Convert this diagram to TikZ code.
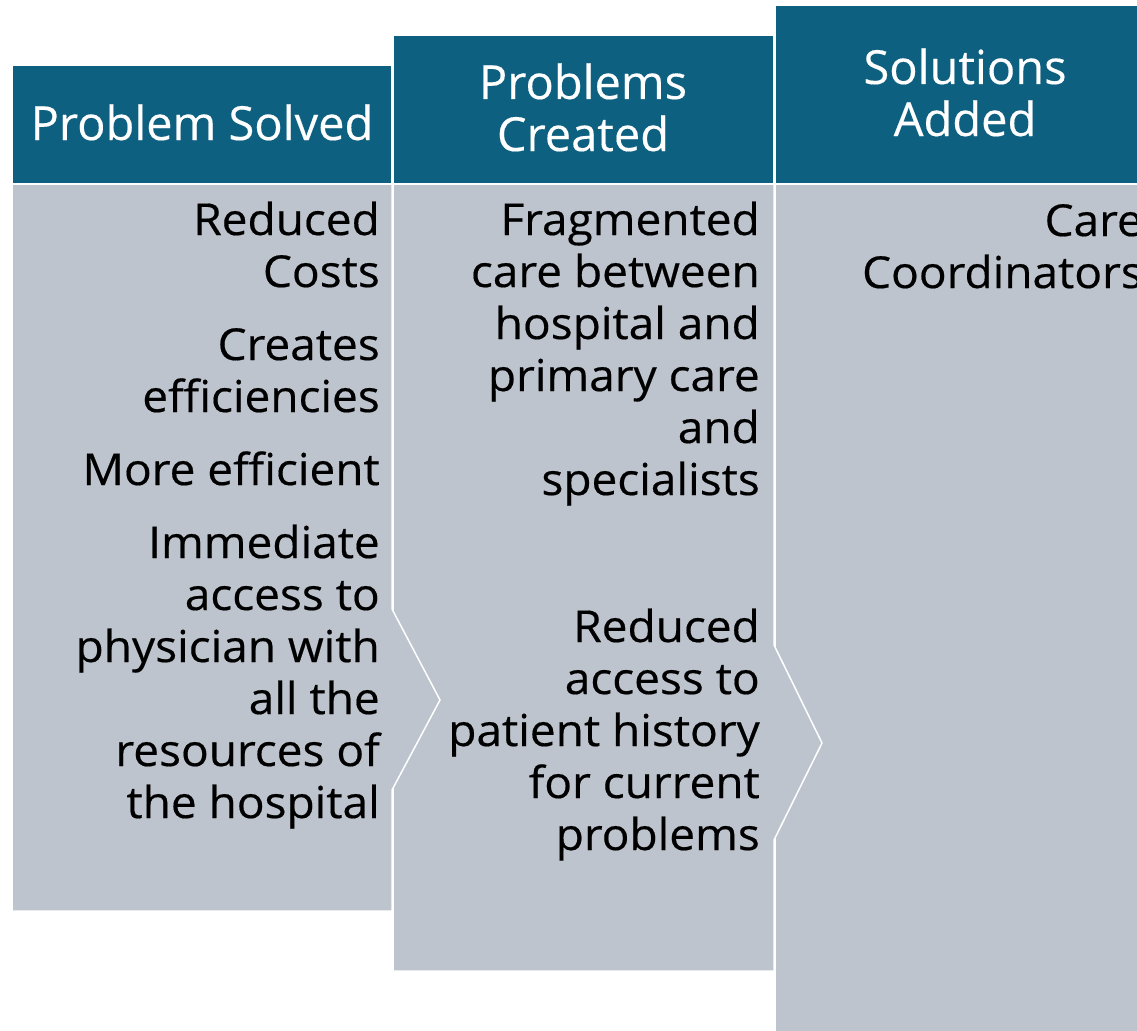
\documentclass[tikz,border=0pt]{standalone}
\usepackage{fontspec}
\setmainfont{Open Sans}
\newfontfamily\bodyfont[FakeStretch=1.045,FakeBold=0.4]{Open Sans}
\newfontfamily\headfont[FakeBold=0.3]{Open Sans}
\definecolor{hdr}{RGB}{14,96,128}
\definecolor{bodyc}{RGB}{189,196,205}
\begin{document}
\begin{tikzpicture}[x=1pt,y=-1pt,
  panel/.style={fill=bodyc,draw=white,line width=1.5pt,line join=miter},
  hbox/.style={fill=hdr,draw=white,line width=1.5pt},
  htext/.style={text=white,font=\headfont\fontsize{47}{52}\selectfont,inner sep=0pt,anchor=base},
  btext/.style={text=black,font=\bodyfont\fontsize{44}{52}\selectfont,inner sep=0pt,anchor=base east}]
\useasboundingbox (0,0) rectangle (1137,1030);
\clip (0,0) rectangle (1137,1030);
\fill[white] (0,0) rectangle (1137,1030);
% column 3
\path[panel] (775,184) rectangle (1160,1040);
\path[hbox] (775,5) rectangle (1160,184);
% column 2
\path[panel] (393,184) -- (774,184) -- (774,645) -- (822,743) -- (774,840) -- (774,971) -- (393,971) -- cycle;
\path[hbox] (393,35) rectangle (774,184);
% column 1
\path[panel] (12,184) -- (392,184) -- (392,609) -- (440,700) -- (392,790) -- (392,911) -- (12,911) -- cycle;
\path[hbox] (12,65) rectangle (392,184);
% headers
\node[htext] (h1) at (202,140) {Problem Solved};
\node[htext] (h2a) at (583,99) {Problems};
\node[htext] (h2b) at (583,151) {Created};
\node[htext] (h3a) at (965,84) {Solutions};
\node[htext] (h3b) at (965,136) {Added};
% column 1 text
\node[btext] (a1) at (380,235) {Reduced};
\node[btext] (a2) at (380,287) {Costs};
\node[btext] (a3) at (380,360) {Creates};
\node[btext] (a4) at (380,412) {efficiencies};
\node[btext] (a5) at (380,485) {More efficient};
\node[btext] (a6) at (380,558) {Immediate};
\node[btext] (a7) at (380,610) {access to};
\node[btext] (a8) at (380,662) {physician with};
\node[btext] (a9) at (380,714) {all the};
\node[btext] (a10) at (380,766) {resources of};
\node[btext] (a11) at (380,818) {the hospital};
% column 2 text
\node[btext] (b1) at (760,235) {Fragmented};
\node[btext] (b2) at (760,287) {care between};
\node[btext] (b3) at (760,339) {hospital and};
\node[btext] (b4) at (760,391) {primary care};
\node[btext] (b5) at (760,443) {and};
\node[btext] (b6) at (760,495) {specialists};
\node[btext] (b7) at (760,642) {Reduced};
\node[btext] (b8) at (760,694) {access to};
\node[btext] (b9) at (760,746) {patient history};
\node[btext] (b10) at (760,798) {for current};
\node[btext] (b11) at (760,850) {problems};
% column 3 text
\node[btext] (c1) at (1143,236) {Care};
\node[btext] (c2) at (1143,288) {Coordinators};
\end{tikzpicture}
\end{document}
